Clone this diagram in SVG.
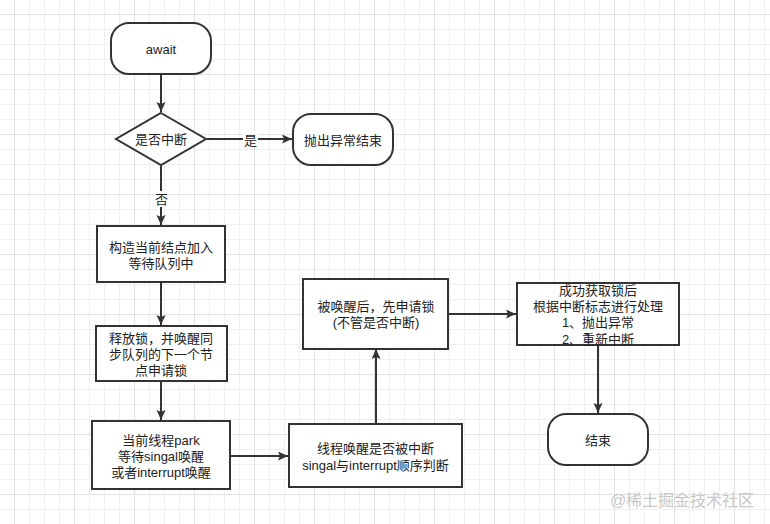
<svg xmlns="http://www.w3.org/2000/svg" width="770" height="524" viewBox="0 0 770 524">
<defs>
<pattern id="grid" patternUnits="userSpaceOnUse" x="14" y="14" width="60" height="60">
<path d="M15.5,0V60M30.5,0V60M45.5,0V60M0,15.5H60M0,30.5H60M0,45.5H60" stroke="#efefef" stroke-width="1" fill="none"/>
<path d="M0.5,0V60M0,0.5H60" stroke="#e2e2e2" stroke-width="1" fill="none"/>
</pattern>
<marker id="arr" markerUnits="userSpaceOnUse" markerWidth="12" markerHeight="10" refX="10" refY="4.5" orient="auto">
<path d="M0,0 L10,4.5 L0,9 L2,4.5 z" fill="#333"/>
</marker>
<style>
.n{fill:#fff;stroke:#333;stroke-width:2}
.t{font-family:"Liberation Sans","Noto Sans CJK SC",sans-serif;font-size:13px;fill:#222;text-anchor:middle;dominant-baseline:central}
.c{fill:none;stroke:#333;stroke-width:2;marker-end:url(#arr)}
.lb{fill:#fff}
</style>
</defs>
<rect width="770" height="524" fill="#fff"/>
<rect width="770" height="524" fill="url(#grid)"/>

<g id="connectors">
<path class="c" d="M161,74V112"/>
<path class="c" d="M207,139H292"/>
<path class="c" d="M161,166V225"/>
<path class="c" d="M161,282V325"/>
<path class="c" d="M161,381V420"/>
<path class="c" d="M230,456H288"/>
<path class="c" d="M376,424V349"/>
<path class="c" d="M448,314H516"/>
<path class="c" d="M598,345V413"/>
<rect class="lb" x="243" y="131" width="15" height="16"/>
<text class="t" x="250.5" y="140">是</text>
<rect class="lb" x="154" y="191" width="15" height="16"/>
<text class="t" x="161.5" y="199">否</text>
</g>

<g id="await">
<rect class="n" x="111" y="23" width="100" height="51" rx="18"/>
<text class="t" x="161" y="49">await</text>
</g>
<g id="check-interrupt">
<path class="n" d="M161,113 L206,139 L161,165 L116,139 Z"/>
<text class="t" x="161" y="139">是否中断</text>
</g>
<g id="throw-end">
<rect class="n" x="293" y="114" width="100" height="51" rx="18"/>
<text class="t" x="343" y="140">抛出异常结束</text>
</g>
<g id="add-waiter">
<rect class="n" x="97" y="226" width="128" height="56"/>
<text class="t" x="161" y="247.5">构造当前结点加入</text>
<text class="t" x="161" y="263.5">等待队列中</text>
</g>
<g id="release-lock">
<rect class="n" x="96" y="326" width="131" height="55"/>
<text class="t" x="161" y="338">释放锁，并唤醒同</text>
<text class="t" x="161" y="354">步队列的下一个节</text>
<text class="t" x="161" y="370">点申请锁</text>
</g>
<g id="park">
<rect class="n" x="92" y="421" width="138" height="68"/>
<text class="t" x="161" y="440">当前线程park</text>
<text class="t" x="161" y="456.5">等待singal唤醒</text>
<text class="t" x="161" y="472.5">或者interrupt唤醒</text>
</g>
<g id="check-wakeup">
<rect class="n" x="289" y="424" width="173" height="63"/>
<text class="t" x="375.5" y="448">线程唤醒是否被中断</text>
<text class="t" x="375.5" y="465">singal与interrupt顺序判断</text>
</g>
<g id="acquire">
<rect class="n" x="303" y="279" width="145" height="70"/>
<text class="t" x="376" y="306.5">被唤醒后，先申请锁</text>
<text class="t" x="376" y="322.5">(不管是否中断)</text>
</g>
<g id="handle-interrupt">
<rect class="n" x="517" y="283" width="162" height="62"/>
<text class="t" x="598" y="290.5">成功获取锁后</text>
<text class="t" x="598" y="306">根据中断标志进行处理</text>
<text class="t" x="598" y="322.5">1、抛出异常</text>
<text class="t" x="598" y="339">2、重新中断</text>
</g>
<g id="end">
<rect class="n" x="548" y="414" width="100" height="51" rx="18"/>
<text class="t" x="598" y="440">结束</text>
</g>
<text x="682" y="500" font-family="'Liberation Sans','Noto Sans CJK SC',sans-serif" font-size="16" fill="#c8c8c8" text-anchor="middle" dominant-baseline="central">@稀土掘金技术社区</text>
</svg>
